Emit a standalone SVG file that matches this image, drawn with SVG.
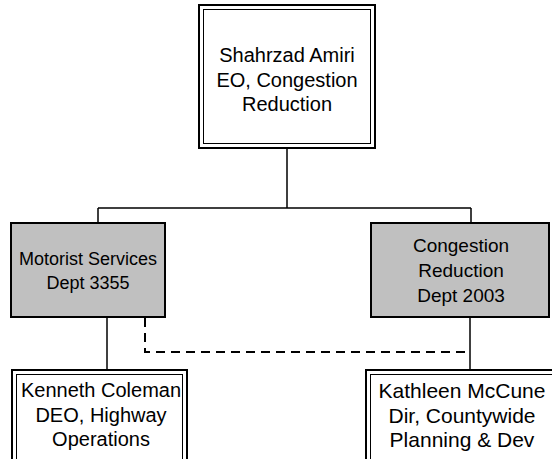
<svg xmlns="http://www.w3.org/2000/svg" width="552" height="459" viewBox="0 0 552 459">
<style>
.t{font-family:"Liberation Sans",Arial,sans-serif;font-size:20px;fill:#000;text-anchor:middle}
.s18{font-size:18px}
.s19{font-size:19px}
.s21{font-size:21px}
.outer{fill:#fff;stroke:#000;stroke-width:2}
.inner{fill:none;stroke:#000;stroke-width:1}
.grey{fill:#c0c0c0;stroke:#000;stroke-width:2}
.c{fill:none;stroke:#000;stroke-width:1.5}
.d{fill:none;stroke:#000;stroke-width:2;stroke-dasharray:9 6}
</style>
<rect width="552" height="459" fill="#fff"/>
<g id="connectors">
<path class="c" d="M287,148 V208 M98,208 H471 M98,208 V223 M471,208 V223"/>
<path class="c" d="M107,317 V370"/>
<path class="c" d="M470,317 V370"/>
<path class="d" d="M145,318 V352 H470"/>
</g>
<g id="n-amiri">
<rect class="outer" x="199" y="5" width="176" height="143"/>
<rect class="inner" x="203.5" y="9.5" width="167" height="134"/>
<text class="t" x="287" y="62">Shahrzad Amiri</text>
<text class="t" x="287" y="86.5">EO, Congestion</text>
<text class="t" x="287" y="111">Reduction</text>
</g>
<g id="n-motorist">
<rect class="grey" x="11" y="223" width="154" height="94"/>
<text class="t s18" x="88" y="264.5">Motorist Services</text>
<text class="t s18" x="88" y="288.5">Dept 3355</text>
</g>
<g id="n-congestion">
<rect class="grey" x="371" y="223" width="178" height="94"/>
<text class="t s19" x="461" y="251.5">Congestion</text>
<text class="t s19" x="461" y="276.5">Reduction</text>
<text class="t s19" x="461" y="301.5">Dept 2003</text>
</g>
<g id="n-coleman">
<rect class="outer" x="12" y="370" width="175" height="95"/>
<rect class="inner" x="16.5" y="374.5" width="166" height="90"/>
<text class="t" x="101" y="397">Kenneth Coleman</text>
<text class="t" x="101" y="422">DEO, Highway</text>
<text class="t" x="101" y="446">Operations</text>
</g>
<g id="n-mccune">
<rect class="outer" x="366" y="370" width="190" height="95"/>
<rect class="inner" x="370.5" y="374.5" width="190" height="90"/>
<text class="t s21" x="462" y="397.5">Kathleen McCune</text>
<text class="t s21" x="462" y="422.5">Dir, Countywide</text>
<text class="t s21" x="462" y="447">Planning &amp; Dev</text>
</g>
</svg>
